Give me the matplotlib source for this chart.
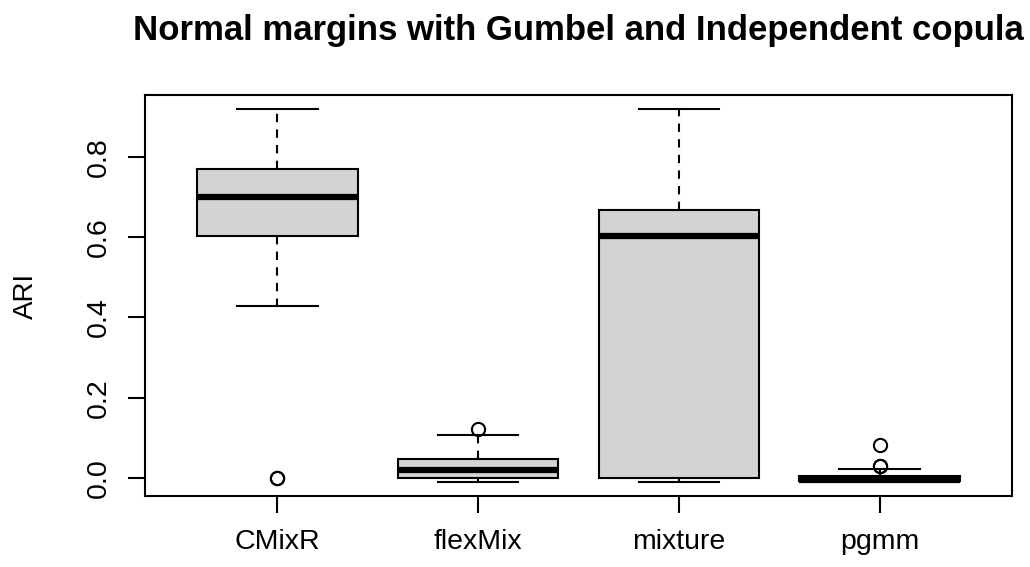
import matplotlib
matplotlib.use("Agg")
import matplotlib.pyplot as plt

# ARI summary per method (five-number summaries plus outliers)
categories = ["CMixR", "flexMix", "mixture", "pgmm"]
whisker_low = [0.429, -0.010, -0.010, -0.008]
quartile_1 = [0.603, 0.001, 0.001, -0.007]
medians = [0.700, 0.020, 0.603, -0.004]
quartile_3 = [0.769, 0.047, 0.668, 0.005]
whisker_high = [0.919, 0.107, 0.919, 0.022]
outliers = [[0.0, 0.0], [0.122], [], [0.030, 0.031, 0.082]]
y_ticks = [0.0, 0.2, 0.4, 0.6, 0.8]

plt.rcParams["font.family"] = ["Liberation Sans", "DejaVu Sans"]

fig = plt.figure(figsize=(10.30, 5.67), dpi=100)
ax = fig.add_axes([145 / 1030, 1 - 496 / 567, (1012 - 145) / 1030, (496 - 95) / 567])

stats = []
for i, name in enumerate(categories):
    stats.append(dict(label=name, whislo=whisker_low[i], q1=quartile_1[i],
                      med=medians[i], q3=quartile_3[i], whishi=whisker_high[i],
                      fliers=outliers[i]))

lw = 1.5
ax.bxp(stats, positions=range(1, len(categories) + 1), widths=0.8,
       patch_artist=True, showfliers=True,
       boxprops=dict(facecolor="#d3d3d3", edgecolor="black", linewidth=lw),
       medianprops=dict(color="black", linewidth=lw * 3, solid_capstyle="butt"),
       whiskerprops=dict(color="black", linewidth=lw, linestyle=(0, (4, 3.5))),
       capprops=dict(color="black", linewidth=lw),
       capwidths=0.4,
       flierprops=dict(marker="o", markerfacecolor="none", markeredgecolor="black",
                       markersize=9.5, markeredgewidth=lw))

ax.set_xlim(0.34, 4.66)
ax.set_ylim(-0.0449, 0.9545)
ax.set_yticks(y_ticks)
ax.set_yticklabels([f"{v:.1f}" for v in y_ticks], rotation=90, va="center")
ax.set_xticks(range(1, len(categories) + 1))
ax.set_xticklabels(categories)
ax.tick_params(axis="both", direction="out", length=12, width=lw, labelsize=20.5,
               pad=12)
for s in ax.spines.values():
    s.set_linewidth(lw)

ax.set_ylabel("ARI", fontsize=20, labelpad=34)
fig.suptitle("Normal margins with Gumbel and Independent copula", fontsize=25,
             fontweight="bold", x=(145 + 1012) / 2 / 1030, y=0.975, va="top")

fig.savefig("out.png", dpi=100)
